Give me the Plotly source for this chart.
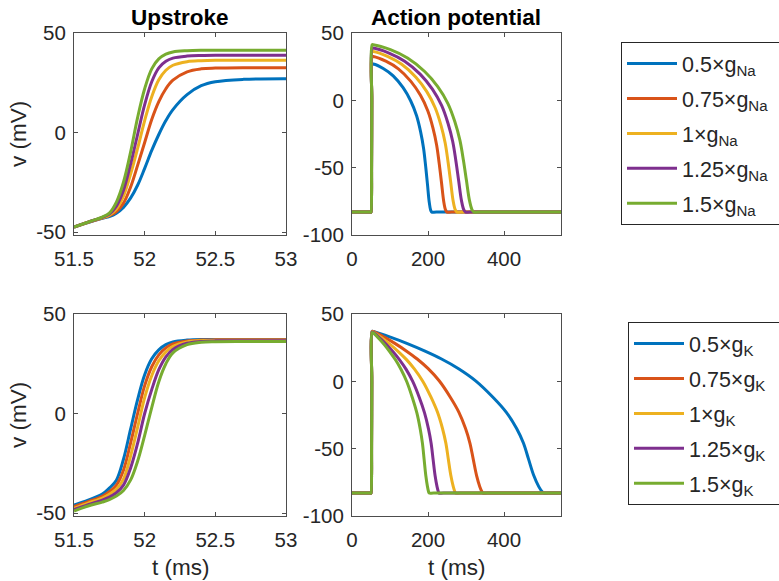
import plotly.graph_objects as go

# ---------------- data ----------------
colors = ["#0072BD", "#D95319", "#EDB120", "#7E2F8E", "#77AC30"]
labels_na = ["0.5×g<sub>Na</sub>", "0.75×g<sub>Na</sub>", "1×g<sub>Na</sub>",
             "1.25×g<sub>Na</sub>", "1.5×g<sub>Na</sub>"]
labels_k = ["0.5×g<sub>K</sub>", "0.75×g<sub>K</sub>", "1×g<sub>K</sub>",
            "1.25×g<sub>K</sub>", "1.5×g<sub>K</sub>"]

# Upstroke time grid (ms)
t_up = [51.5, 51.6, 51.7, 51.75, 51.8, 51.85, 51.9, 51.95, 52.0, 52.05,
        52.1, 52.15, 52.2, 52.3, 52.4, 52.5, 52.7, 53.0]

# Upstroke, varying gNa (mV)
up_na_05 = [-47.5, -45.2, -43.1, -42.2, -40.5, -37.6, -33, -26.5, -18, -9,
            -1, 6, 11.5, 19, 23.5, 25.5, 26.7, 27]
up_na_075 = [-47.5, -45.1, -43, -41.8, -39.7, -35.5, -27.5, -16.5, -5, 6.5,
             15.5, 22, 26.3, 30.5, 32, 32.4, 32.6, 32.6]
up_na_1 = [-47.5, -45.1, -42.8, -41.5, -38.5, -32, -21, -8, 6, 18,
           26.5, 31.3, 33.8, 35.6, 36.1, 36.3, 36.3, 36.3]
up_na_125 = [-47.5, -45, -42.6, -41, -37, -29, -16, -1, 14, 25.5,
             32.5, 35.8, 37.4, 38.4, 38.7, 38.8, 38.8, 38.8]
up_na_15 = [-47.5, -45, -42.5, -40.5, -35, -25, -10, 7.5, 22, 32,
            37, 39.4, 40.5, 41.1, 41.3, 41.3, 41.3, 41.3]

# Upstroke, varying gK (mV)
up_k_05 = [-46, -43.5, -40.5, -37.5, -33.5, -23, -8, 7, 19.5, 27.5,
           32, 34.6, 36, 36.9, 37.2, 37.2, 37.2, 37.2]
up_k_075 = [-46.8, -44.3, -41.6, -39.3, -36, -28.5, -15, 0, 14, 23.5,
            29.5, 33, 35, 36.5, 36.9, 37, 37, 37]
up_k_1 = [-47.6, -45, -42.5, -40.6, -38, -33, -21.5, -7, 8, 19,
          26.5, 31, 33.7, 36, 36.6, 36.8, 36.8, 36.8]
up_k_125 = [-48.3, -45.8, -43.5, -42, -39.8, -36, -27.5, -15, 0, 12,
            22, 28.5, 32.2, 35.3, 36.2, 36.5, 36.5, 36.5]
up_k_15 = [-49, -46.5, -44.5, -43.3, -41.5, -38.7, -33.5, -24, -11, 3,
           16, 25, 30.5, 34.6, 35.8, 36.1, 36.2, 36.2]

# Action potentials, varying gNa: time (ms) and voltage (mV)
ap_na_05_t = [0, 49.5, 50, 51.5, 52.1, 53, 56, 82.2, 108.4, 134.5, 154.6, 170.0,
              180.7, 188.4, 193.8, 198.5, 203.1, 206.9, 210, 222, 550]
ap_na_05_v = [-83, -83, -83, -48, 0, 27, 27, 23.7, 18.2, 9.4, -0.5, -11.5,
              -23.6, -35.7, -48.9, -62.1, -75.3, -81.4, -83, -83, -83]
ap_na_075_t = [0, 49.5, 50, 51.5, 52.05, 53, 56, 89.0, 122.0, 154.9, 180.2, 199.6,
               213.1, 222.8, 229.6, 235.5, 241.3, 246.1, 250, 262, 550]
ap_na_075_v = [-83, -83, -83, -48, 0, 32.6, 32.6, 29.1, 23.4, 14.1, 3.7, -7.9,
               -20.6, -33.3, -47.2, -61.0, -74.9, -81.3, -83, -83, -83]
ap_na_1_t = [0, 49.5, 50, 51.5, 52.0, 53, 56, 93.4, 130.8, 168.2, 196.8, 218.8,
             234.2, 245.2, 252.9, 259.5, 266.1, 271.6, 276, 288, 550]
ap_na_1_v = [-83, -83, -83, -48, 0, 36.3, 36.3, 32.7, 26.8, 17.2, 6.5, -5.5,
             -18.6, -31.7, -46.0, -60.3, -74.6, -81.2, -83, -83, -83]
ap_na_125_t = [0, 49.5, 50, 51.5, 51.95, 53, 56, 97.3, 138.6, 179.9, 211.5, 235.8,
               252.8, 265.0, 273.5, 280.8, 288.1, 294.1, 299, 311, 550]
ap_na_125_v = [-83, -83, -83, -48, 0, 38.8, 38.8, 35.1, 29.1, 19.3, 8.3, -3.8,
               -17.2, -30.6, -45.2, -59.9, -74.5, -81.2, -83, -83, -83]
ap_na_15_t = [0, 49.5, 50, 51.5, 51.93, 53, 56, 101.1, 146.1, 191.2, 225.6, 252.1,
              270.7, 283.9, 293.2, 301.1, 309.1, 315.7, 321, 333, 550]
ap_na_15_v = [-83, -83, -83, -48, 0, 41.3, 41.3, 37.6, 31.4, 21.4, 10.2, -2.2,
              -15.9, -29.6, -44.5, -59.4, -74.3, -81.1, -83, -83, -83]

# Action potentials, varying gK
ap_k_05_t = [0, 49.5, 50, 51.5, 51.95, 53, 56, 100.9, 145.8, 190.7, 235.6, 280.5,
             325.4, 370.3, 406.2, 433.2, 451.1, 464.6, 478.1, 491.5, 500.5, 505, 517, 550]
ap_k_05_v = [-83, -83, -83, -46, 0, 37.2, 37, 32.8, 28, 22.6, 16.6, 9.4,
             0.4, -11.6, -23, -35, -45.8, -57.8, -69.8, -78.2, -82, -83, -83, -83]
ap_k_075_t = [0, 49.5, 50, 51.5, 51.95, 53, 56, 84.9, 113.8, 142.7, 171.6, 200.5,
              229.4, 258.3, 281.4, 298.8, 310.3, 319.0, 327.7, 336.3, 342.1, 345, 357, 550]
ap_k_075_v = [-83, -83, -83, -46.8, 0, 37, 37, 32.8, 28, 22.6, 16.6, 9.4,
              0.4, -11.6, -23, -35, -45.8, -57.8, -69.8, -78.2, -82, -83, -83, -83]
ap_k_1_t = [0, 49.5, 50, 51.5, 51.98, 53, 56, 77.7, 99.4, 121.1, 142.8, 164.5,
            186.2, 207.9, 225.3, 238.3, 247.0, 253.5, 260.0, 266.5, 270.8, 273, 285, 550]
ap_k_1_v = [-83, -83, -83, -47.6, 0, 36.8, 36.6, 32.4, 27.6, 22.3, 16.3, 9.1,
            0.1, -11.8, -23.2, -35.2, -45.9, -57.9, -69.8, -78.2, -82, -83, -83, -83]
ap_k_125_t = [0, 49.5, 50, 51.5, 52.0, 53, 56, 73.3, 90.6, 107.9, 125.2, 142.5,
              159.8, 177.1, 190.9, 201.3, 208.2, 213.4, 218.6, 223.8, 227.3, 229, 241, 550]
ap_k_125_v = [-83, -83, -83, -48.3, 0, 36.5, 36.3, 32.1, 27.4, 22.0, 16.0, 8.9,
              -0.1, -12.0, -23.4, -35.3, -46.0, -57.9, -69.9, -78.2, -82, -83, -83, -83]
ap_k_15_t = [0, 49.5, 50, 51.5, 52.03, 53, 56, 70.7, 85.4, 100.1, 114.8, 129.5,
             144.2, 158.9, 170.7, 179.5, 185.4, 189.8, 194.2, 198.6, 201.5, 203, 215, 550]
ap_k_15_v = [-83, -83, -83, -49, 0, 36.2, 36, 31.8, 27.1, 21.7, 15.8, 8.6,
             -0.3, -12.2, -23.5, -35.4, -46.1, -58, -69.9, -78.2, -82, -83, -83, -83]

up_na = [up_na_05, up_na_075, up_na_1, up_na_125, up_na_15]
up_k = [up_k_05, up_k_075, up_k_1, up_k_125, up_k_15]
ap_na = [(ap_na_05_t, ap_na_05_v), (ap_na_075_t, ap_na_075_v), (ap_na_1_t, ap_na_1_v),
         (ap_na_125_t, ap_na_125_v), (ap_na_15_t, ap_na_15_v)]
ap_k = [(ap_k_05_t, ap_k_05_v), (ap_k_075_t, ap_k_075_v), (ap_k_1_t, ap_k_1_v),
        (ap_k_125_t, ap_k_125_v), (ap_k_15_t, ap_k_15_v)]

up_xticks = [51.5, 52, 52.5, 53]
up_xtext = ["51.5", "52", "52.5", "53"]
up_yticks = [-50, 0, 50]
up_ytext = ["-50", "0", "50"]
ap_xticks = [0, 200, 400]
ap_xtext = ["0", "200", "400"]
ap_yticks = [-100, -50, 0, 50]
ap_ytext = ["-100", "-50", "0", "50"]

# ---------------- figure ----------------
FONT = "Liberation Sans, Arial, sans-serif"
TXT = "#262626"
W, H = 779, 581
LW = 3
PAD = "\u00a0\u00a0\u00a0\u00a0"  # legend boxes run past the right edge, as in the original

fig = go.Figure()

for i in range(5):
    g = "na%d" % i
    fig.add_trace(go.Scatter(x=t_up, y=up_na[i], mode="lines", xaxis="x", yaxis="y",
                             line=dict(color=colors[i], width=LW, shape="spline"),
                             legendgroup=g, showlegend=False, name=labels_na[i]))
    fig.add_trace(go.Scatter(x=ap_na[i][0], y=ap_na[i][1], mode="lines", xaxis="x2", yaxis="y2",
                             line=dict(color=colors[i], width=LW, shape="spline"),
                             legendgroup=g, showlegend=True, legend="legend",
                             name=labels_na[i] + PAD))
for i in range(5):
    g = "k%d" % i
    fig.add_trace(go.Scatter(x=t_up, y=up_k[i], mode="lines", xaxis="x3", yaxis="y3",
                             line=dict(color=colors[i], width=LW, shape="spline"),
                             legendgroup=g, showlegend=False, name=labels_k[i]))
    fig.add_trace(go.Scatter(x=ap_k[i][0], y=ap_k[i][1], mode="lines", xaxis="x4", yaxis="y4",
                             line=dict(color=colors[i], width=LW, shape="spline"),
                             legendgroup=g, showlegend=True, legend="legend2",
                             name=labels_k[i] + PAD))


def px_x(a, b):
    return [a / W, b / W]


def px_y(top, bottom):
    return [1 - bottom / H, 1 - top / H]


axis_common = dict(showline=True, mirror="ticks", linecolor="#4d4d4d", linewidth=1,
                   ticks="inside", ticklen=4, tickcolor="#4d4d4d", tickwidth=1,
                   showgrid=False, zeroline=False,
                   tickfont=dict(family=FONT, size=20.5, color=TXT))
xextra = dict(ticklabelstandoff=5)
yextra = dict(ticklabelstandoff=3)

dom_left = px_x(74, 286)
dom_right = px_x(352, 561)
dom_top = px_y(33, 235)
dom_bot = px_y(314, 516)

legend_common = dict(xanchor="left", yanchor="top",
                     bordercolor="#262626", borderwidth=1, bgcolor="white",
                     font=dict(family=FONT, size=21.5, color=TXT),
                     tracegroupgap=4, itemwidth=50)

fig.update_layout(
    width=W, height=H,
    margin=dict(l=0, r=0, t=0, b=0, autoexpand=False),
    paper_bgcolor="white", plot_bgcolor="white",
    font=dict(family=FONT, color=TXT),
    xaxis=dict(domain=dom_left, anchor="y", range=[51.5, 53], tickvals=up_xticks,
               ticktext=up_xtext, **axis_common, **xextra),
    yaxis=dict(domain=dom_top, anchor="x", range=[-51.5, 50], tickvals=up_yticks,
               ticktext=up_ytext, **axis_common, **yextra),
    xaxis2=dict(domain=dom_right, anchor="y2", range=[0, 550], tickvals=ap_xticks,
                ticktext=ap_xtext, **axis_common, **xextra),
    yaxis2=dict(domain=dom_top, anchor="x2", range=[-100, 50], tickvals=ap_yticks,
                ticktext=ap_ytext, **axis_common, **yextra),
    xaxis3=dict(domain=dom_left, anchor="y3", range=[51.5, 53], tickvals=up_xticks,
                ticktext=up_xtext, **axis_common, **xextra),
    yaxis3=dict(domain=dom_bot, anchor="x3", range=[-51.5, 50], tickvals=up_yticks,
                ticktext=up_ytext, **axis_common, **yextra),
    xaxis4=dict(domain=dom_right, anchor="y4", range=[0, 550], tickvals=ap_xticks,
                ticktext=ap_xtext, **axis_common, **xextra),
    yaxis4=dict(domain=dom_bot, anchor="x4", range=[-100, 50], tickvals=ap_yticks,
                ticktext=ap_ytext, **axis_common, **yextra),
    legend=dict(x=621 / W, y=1 - 42 / H, **legend_common),
    legend2=dict(x=628 / W, y=1 - 322 / H, **legend_common),
    showlegend=True,
)

ann = []
ann.append(dict(text="<b>Upstroke</b>", x=sum(dom_left) / 2, y=1 - 18 / H))
ann.append(dict(text="<b>Action potential</b>", x=sum(dom_right) / 2, y=1 - 18 / H))
for a in ann:
    a.update(xref="paper", yref="paper", showarrow=False, xanchor="center", yanchor="middle",
             font=dict(family=FONT, size=22.5, color="#000000"))
labels = [
    dict(text="v (mV)", x=18 / W, y=1 - 134 / H, textangle=-90),
    dict(text="v (mV)", x=18 / W, y=1 - 415 / H, textangle=-90),
    dict(text="t (ms)", x=sum(dom_left) / 2, y=1 - 567 / H),
    dict(text="t (ms)", x=sum(dom_right) / 2, y=1 - 567 / H),
]
for a in labels:
    a.update(xref="paper", yref="paper", showarrow=False, xanchor="center", yanchor="middle",
             font=dict(family=FONT, size=22.5, color=TXT))
fig.update_layout(annotations=ann + labels)

fig.write_html("out.html")
